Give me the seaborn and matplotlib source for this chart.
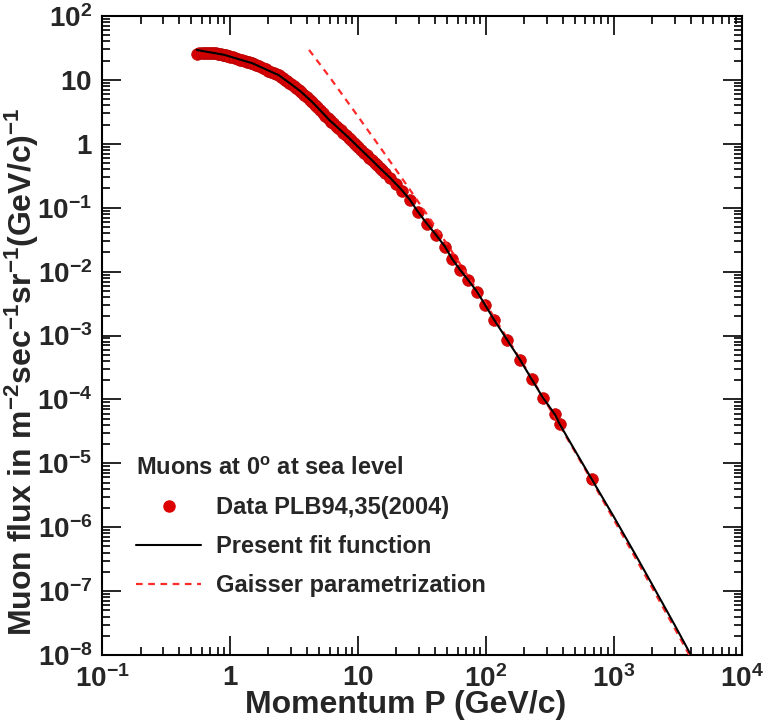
import numpy as np
import pandas as pd
import matplotlib
matplotlib.use('Agg')
import matplotlib.pyplot as plt
import matplotlib.ticker as mticker
from matplotlib.lines import Line2D
import seaborn as sns

data_p = [0.55, 0.575, 0.6, 0.625, 0.65, 0.675, 0.7, 0.725, 0.75, 0.775, 0.8, 0.825,
          0.85, 0.875, 0.9, 0.925, 0.95, 0.975, 1.0, 1.05, 1.1, 1.15, 1.2, 1.25, 1.3,
          1.35, 1.4, 1.45, 1.5, 1.55, 1.6, 1.7, 1.8, 1.9, 2.0, 2.1, 2.2, 2.3, 2.4, 2.5,
          2.6, 2.7, 2.8, 2.9, 3.0, 3.15, 3.3, 3.45, 3.6, 3.8, 4.0, 4.2, 4.4, 4.6, 4.8,
          5.05, 5.3, 5.55, 5.8, 6.0, 6.2, 6.4, 6.7, 7.0, 7.35, 7.7, 8.1, 8.5, 8.9, 9.3,
          9.65, 10.0, 10.6, 11.2, 11.75, 12.3, 12.9, 13.5, 14.15, 14.8, 15.5, 16.3,
          17.9, 19.7, 22.0,
          25.5, 29.4, 34.6, 40.6, 47.9, 54.2, 62.7, 72.3, 85.1, 98.2,
          115.5, 146, 184.5, 228.6, 278.6, 346, 378, 673]
data_flux = [25.5, 26.0, 26.3, 26.5, 26.6, 26.65, 26.6, 26.5, 26.3, 26.05, 25.8, 25.5,
             25.2, 24.95, 24.7, 24.3, 23.9, 23.55, 23.2, 22.55, 21.9, 21.35, 20.8, 20.3,
             19.8, 19.35, 18.95, 18.55, 18.2, 17.7, 17.2, 16.3, 15.45, 14.7, 14.0, 13.45,
             12.9, 12.4, 11.9, 11.25, 10.6, 10.1, 9.6, 9.1, 8.6, 8.0, 7.45, 6.95, 6.5,
             5.9, 5.35, 4.9, 4.5, 4.1, 3.75, 3.38, 3.05, 2.77, 2.52, 2.34, 2.21, 2.09,
             1.92, 1.77, 1.63, 1.50, 1.37, 1.24, 1.135, 1.04, 0.97, 0.90, 0.81, 0.73,
             0.665, 0.605, 0.55, 0.50, 0.458, 0.42, 0.385, 0.352,
             0.292, 0.238, 0.185,
             0.133, 0.0866, 0.0562, 0.0379, 0.0246, 0.016, 0.0107, 0.0075, 0.00487,
             0.00305, 0.00178, 8.66e-4, 4.2e-4, 2.05e-4, 1.07e-4, 5.83e-5, 4.07e-5, 5.6e-6]

# present fit function
fit_p = [0.55, 0.7, 0.9, 1.2, 1.5, 2.0, 2.4, 3.0, 3.6, 4.4, 5.3, 6.0, 7.0, 8.5, 10.0,
         12.3, 14.8, 17.9, 21.7, 25.5, 29.4, 34.6, 40.6, 47.9, 54.2, 62.7, 72.3, 85.1,
         98.2, 115.5, 146, 184.5, 228.6, 278.6, 346, 378, 500, 673, 1000, 1500, 2000,
         3000, 4000, 4600]
fit_flux = [29.4, 27.0, 24.7, 20.8, 18.2, 14.0, 11.9, 8.6, 6.5, 4.5, 3.05, 2.34, 1.77,
            1.24, 0.90, 0.605, 0.42, 0.292, 0.195, 0.133, 0.0866, 0.0562, 0.0379, 0.0246,
            0.016, 0.0107, 0.0075, 0.00487, 0.00305, 0.00178, 8.66e-4, 4.2e-4, 2.05e-4,
            1.07e-4, 5.83e-5, 4.07e-5, 1.55e-5, 5.6e-6, 1.45e-6, 3.5e-7, 1.25e-7, 2.9e-8,
            1.0e-8, 6.2e-9]

# Gaisser parametrization
gaisser_p = [4.15, 6, 9, 15, 24, 35, 50, 70, 100, 150, 200, 300, 500, 700, 1000, 1500,
             2000, 3000, 4000, 4500]
gaisser_flux = [29.5, 11.1, 3.61, 0.867, 0.2275, 0.076, 0.0264, 0.00947, 0.00311,
                8.49e-4, 3.31e-4, 8.53e-5, 1.485e-5, 4.61e-6, 1.31e-6, 3.11e-7, 1.11e-7,
                2.57e-8, 9.0e-9, 5.6e-9]

sns.set_style('ticks')
plt.rcParams['font.family'] = ['Liberation Sans', 'DejaVu Sans']
plt.rcParams['font.weight'] = 'bold'
plt.rcParams['mathtext.fontset'] = 'custom'
plt.rcParams['mathtext.rm'] = 'Liberation Sans:bold'
plt.rcParams['mathtext.bf'] = 'Liberation Sans:bold'
plt.rcParams['mathtext.it'] = 'Liberation Sans:bold'
plt.rcParams['mathtext.default'] = 'bf'

red = '#dd0000'
dash_red = '#ff2a2a'
dash = (0, (3, 2.5))

fig = plt.figure(figsize=(7.64, 7.27), dpi=100)
ax = fig.add_axes([0.1335, 0.099, 0.8375, 0.879])

df = pd.DataFrame({'p': data_p, 'flux': data_flux})
sns.scatterplot(data=df, x='p', y='flux', s=72, color=red, edgecolor='#b00000',
                linewidth=0.4, ax=ax, zorder=2)
sns.lineplot(x=gaisser_p, y=gaisser_flux, color=dash_red, lw=1.6, linestyle=dash,
             ax=ax, zorder=3)
sns.lineplot(x=fit_p, y=fit_flux, color='black', lw=1.5, ax=ax, zorder=4)

ax.set_xscale('log')
ax.set_yscale('log')
ax.set_xlim(0.1, 1e4)
ax.set_ylim(1e-8, 1e2)


def fmt(v, pos):
    e = int(round(np.log10(v)))
    if e == 0:
        return '$1$'
    if e == 1:
        return '$10$'
    return '$10^{%d}$' % e


for axis in (ax.xaxis, ax.yaxis):
    axis.set_major_locator(mticker.LogLocator(base=10, numticks=20))
    axis.set_minor_locator(mticker.LogLocator(base=10, subs=np.arange(2, 10), numticks=200))
    axis.set_major_formatter(mticker.FuncFormatter(fmt))
    axis.set_minor_formatter(mticker.NullFormatter())

ax.tick_params(which='both', direction='in', top=True, right=True, width=1.2, color='black')
ax.tick_params(which='major', length=14, labelsize=20, pad=7)
ax.tick_params(which='minor', length=6)
for sp in ax.spines.values():
    sp.set_linewidth(1.5)
    sp.set_color('black')

ax.set_xlabel('Momentum P (GeV/c)', fontsize=23, fontweight='bold')
ax.xaxis.set_label_coords(0.474, -0.055)
ax.set_ylabel('Muon flux in m$^{-2}$sec$^{-1}$sr$^{-1}$(GeV/c)$^{-1}$', fontsize=23,
              fontweight='bold')
ax.yaxis.set_label_coords(-0.096, 0.443)

handles = [Line2D([], [], marker='o', color=red, ls='none', markersize=8),
           Line2D([], [], color='black', lw=1.5),
           Line2D([], [], color=dash_red, lw=1.6, ls=dash)]
labels = ['Data PLB94,35(2004)', 'Present fit function', 'Gaisser parametrization']
ax.legend(handles, labels, title='Muons at 0$^{o}$ at sea level', loc='lower left',
          bbox_to_anchor=(0.02, 0.057), frameon=False, fontsize=17,
          title_fontproperties={'weight': 'bold', 'size': 17}, alignment='left',
          handlelength=2.75, handletextpad=0.62, labelspacing=0.68)

fig.savefig('out.png', dpi=100)
